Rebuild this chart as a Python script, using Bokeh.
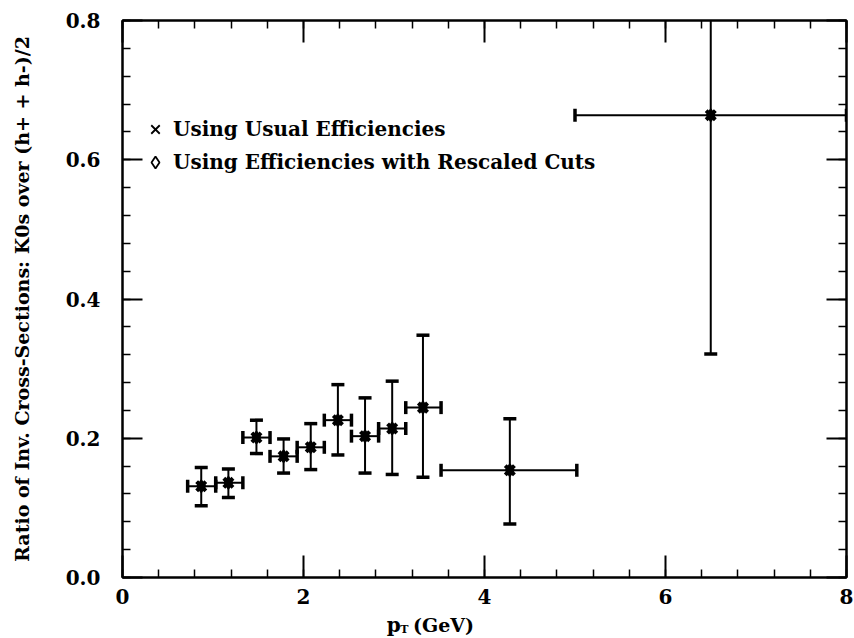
from bokeh.plotting import figure
from bokeh.layouts import column
from bokeh.models import (LinearAxis, Legend, LegendItem, Label, SingleIntervalTicker,
                          NumeralTickFormatter, ColumnDataSource, Range1d, CustomJSTickFormatter)
from bokeh.embed import file_html
from bokeh.resources import INLINE
import numpy as np

# ---- data ----
pt     = [0.87, 1.17, 1.48, 1.78, 2.08, 2.38, 2.68, 2.98, 3.32, 4.28, 6.50]
pt_lo  = [0.72, 1.03, 1.33, 1.63, 1.93, 2.23, 2.53, 2.83, 3.13, 3.52, 5.00]
pt_hi  = [1.03, 1.33, 1.63, 1.93, 2.23, 2.53, 2.83, 3.13, 3.52, 5.02, 8.00]
ratio  = [0.131, 0.136, 0.201, 0.174, 0.187, 0.226, 0.203, 0.214, 0.244, 0.154, 0.664]
r_lo   = [0.103, 0.115, 0.178, 0.150, 0.155, 0.176, 0.150, 0.148, 0.144, 0.077, 0.321]
r_hi   = [0.158, 0.156, 0.226, 0.199, 0.221, 0.277, 0.258, 0.282, 0.348, 0.228, 1.000]
x_ticks_major = 2
y_ticks_major = 0.2
legend_labels = ["Using Usual Efficiencies", "Using Efficiencies with Rescaled Cuts"]
x_label_parts = ["p", "T", "(GeV)"]
y_label = "Ratio of Inv. Cross-Sections: K0s over (h+ + h-)/2"

FONT = "DejaVu Serif"

src = ColumnDataSource(dict(pt=pt, pt_lo=pt_lo, pt_hi=pt_hi, ratio=ratio, r_lo=r_lo, r_hi=r_hi))

p = figure(width=854, height=612, x_range=Range1d(0, 8), y_range=Range1d(0, 0.8),
           output_backend="svg", toolbar_location=None,
           min_border_left=122, min_border_right=8, min_border_top=20, min_border_bottom=35,
           x_axis_type=None, y_axis_type=None)
p.xgrid.visible = False
p.ygrid.visible = False
p.outline_line_color = "black"
p.outline_line_width = 2
p.background_fill_color = "white"
p.border_fill_color = "white"

blank = CustomJSTickFormatter(code="return ''")

def style_axis(ax, major_len, show_labels):
    ax.axis_line_width = 2
    ax.axis_line_color = "black"
    ax.major_tick_in = major_len
    ax.major_tick_out = 0
    ax.minor_tick_in = 8
    ax.minor_tick_out = 0
    ax.major_tick_line_width = 2
    ax.minor_tick_line_width = 1.5
    ax.major_tick_line_color = "black"
    ax.minor_tick_line_color = "black"
    if show_labels:
        ax.major_label_text_font = FONT
        ax.major_label_text_font_style = "bold"
        ax.major_label_text_font_size = "20px"
        ax.major_label_text_color = "black"
    else:
        ax.formatter = blank
        ax.major_label_standoff = 0

xt = SingleIntervalTicker(interval=x_ticks_major, num_minor_ticks=5)
yt = SingleIntervalTicker(interval=y_ticks_major, num_minor_ticks=5)

xb = LinearAxis(ticker=xt)
style_axis(xb, 22, True)
xb.major_label_standoff = 11
p.add_layout(xb, "below")

xa = LinearAxis(ticker=xt)
style_axis(xa, 22, False)
p.add_layout(xa, "above")

yl = LinearAxis(ticker=yt, formatter=NumeralTickFormatter(format="0.0"))
style_axis(yl, 20, True)
yl.major_label_standoff = 22
yl.axis_label = y_label
yl.axis_label_text_font = FONT
yl.axis_label_text_font_style = "bold"
yl.axis_label_text_font_size = "19px"
yl.axis_label_text_color = "black"
yl.axis_label_standoff = 30
p.add_layout(yl, "left")

yr = LinearAxis(ticker=yt)
style_axis(yr, 20, False)
p.add_layout(yr, "right")

# ---- thin legend-style markers (covered by the bold ones) ----
r_x = p.scatter(x="pt", y="ratio", marker="x", size=10, line_width=1.8, line_color="black", source=src)
r_d = p.scatter(x="pt", y="ratio", marker="diamond", size=12, line_width=1.8, line_color="black",
                fill_color=None, source=src)

# ---- error bars ----
p.segment(x0="pt", x1="pt", y0="r_lo", y1="r_hi", source=src, line_color="black", line_width=2)
p.segment(x0="pt_lo", x1="pt_hi", y0="ratio", y1="ratio", source=src, line_color="black", line_width=2)
cap = dict(marker="dash", size=13, line_width=3.5, line_color="black", source=src)
p.scatter(x="pt", y="r_lo", **cap)
p.scatter(x="pt", y="r_hi", **cap)
p.scatter(x="pt_lo", y="ratio", angle=np.pi / 2, **cap)
p.scatter(x="pt_hi", y="ratio", angle=np.pi / 2, **cap)
# bold markers
p.scatter(x="pt", y="ratio", marker="x", size=13, line_width=4, line_color="black", source=src)
p.scatter(x="pt", y="ratio", marker="diamond", size=10, fill_color="black", line_color="black", source=src)

legend = Legend(items=[LegendItem(label=legend_labels[0], renderers=[r_x]),
                       LegendItem(label=legend_labels[1], renderers=[r_d])],
                location=(18, 400), border_line_color=None, background_fill_alpha=0,
                padding=0, margin=0, spacing=3, glyph_width=30, glyph_height=30,
                label_height=30, label_standoff=3,
                label_text_font=FONT, label_text_font_style="bold", label_text_font_size="20px",
                label_text_color="black")
p.add_layout(legend, "center")

# ---- strip below the plot holding the x-axis title (p with subscript T) ----
p2 = figure(width=854, height=26, x_range=p.x_range, y_range=Range1d(0, 1),
            output_backend="svg", toolbar_location=None,
            min_border_left=122, min_border_right=8, min_border_top=0, min_border_bottom=0,
            x_axis_type=None, y_axis_type=None)
p2.outline_line_color = None
p2.xgrid.visible = False
p2.ygrid.visible = False
p2.border_fill_color = "white"
p2.background_fill_color = "white"
tkw = dict(y_units="screen", text_font=FONT, text_font_style="bold", text_color="black",
           text_baseline="middle", text_align="left")
p2.add_layout(Label(x=2.92, y=14, text=x_label_parts[0], text_font_size="20px", **tkw))
p2.add_layout(Label(x=3.07, y=9, text=x_label_parts[1], text_font_size="11px", **tkw))
p2.add_layout(Label(x=3.21, y=14, text=x_label_parts[2], text_font_size="19px", **tkw))

layout = column(p, p2, spacing=0)
open("out.html", "w").write(file_html(layout, INLINE))
